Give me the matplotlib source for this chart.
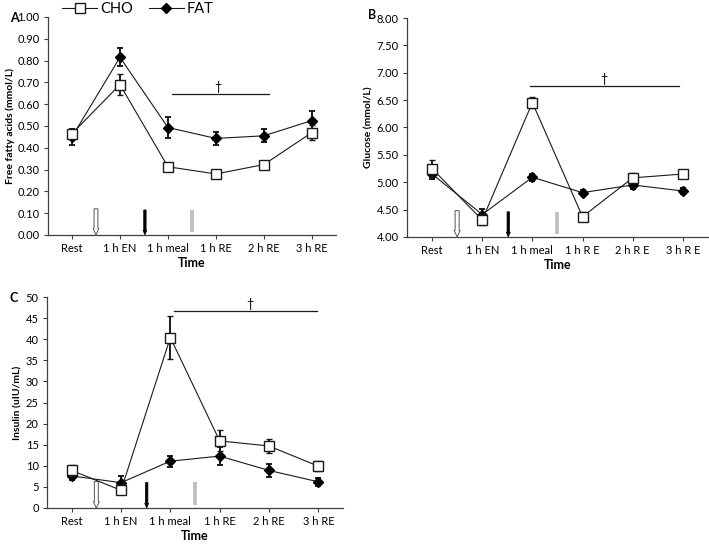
import matplotlib
matplotlib.use("Agg")
import matplotlib.pyplot as plt

plt.rcParams['font.family'] = ['Lato', 'DejaVu Sans']

times = ['Rest', '1 h EN', '1 h meal', '1 h RE', '2 h RE', '3 h RE']
times_b = ['Rest', '1 h EN', '1 h meal', '1 h R E', '2 h R E', '3 h R E']

# A: free fatty acids (mmol/L)
ffa_cho = [0.465, 0.69, 0.313, 0.28, 0.323, 0.47]
ffa_cho_err = [0.02, 0.048, 0.012, 0.01, 0.015, 0.035]
ffa_fat = [0.45, 0.815, 0.493, 0.443, 0.455, 0.525]
ffa_fat_err = [0.035, 0.042, 0.05, 0.03, 0.03, 0.045]

# B: glucose (mmol/L)
glu_cho = [5.25, 4.31, 6.455, 4.37, 5.08, 5.15]
glu_cho_err = [0.15, 0.1, 0.1, 0.08, 0.08, 0.05]
glu_fat = [5.15, 4.41, 5.09, 4.81, 4.95, 4.84]
glu_fat_err = [0.1, 0.1, 0.06, 0.05, 0.07, 0.05]

# C: insulin (uIU/mL)
ins_cho = [8.9, 4.2, 40.4, 15.9, 14.7, 9.9]
ins_cho_err = [1.2, 0.8, 5.0, 2.5, 1.6, 1.2]
ins_fat = [7.6, 6.0, 11.1, 12.3, 8.9, 6.2]
ins_fat_err = [1.0, 1.5, 1.3, 2.2, 1.5, 1.0]

x = list(range(1, 7))
dark = '#1a1a1a'
axis_col = '#404040'


def panel(ax, cho, cho_err, fat, fat_err, labels, ylim, step, fmt, ylabel,
          sig, arrow_top):
    ax.errorbar(x, fat, yerr=fat_err, color=dark, lw=0.8, marker='D', ms=5.5,
                mfc='black', mec='black', ecolor=dark, elinewidth=1.4,
                capsize=2.5, capthick=1.4, zorder=3)
    ax.errorbar(x, cho, yerr=cho_err, color=dark, lw=0.8, marker='s', ms=7,
                mfc='white', mec=dark, mew=1.0, ecolor=dark, elinewidth=1.4,
                capsize=2.5, capthick=1.4, zorder=4)
    lo, hi = ylim
    ax.set_xlim(0.5, 6.5)
    ax.set_ylim(lo, hi)
    ticks = [lo + i * step for i in range(int(round((hi - lo) / step)) + 1)]
    ax.set_yticks(ticks)
    ax.set_yticklabels([fmt.format(t) for t in ticks])
    ax.set_xticks(x)
    ax.set_xticklabels(labels)
    ax.tick_params(labelsize=8, color=axis_col, length=3, width=0.8,
                   direction='out', pad=3)
    for s in ['top', 'right']:
        ax.spines[s].set_visible(False)
    for s in ['left', 'bottom']:
        ax.spines[s].set_color(axis_col)
        ax.spines[s].set_linewidth(0.9)
    ax.set_ylabel(ylabel, fontsize=7.5, fontweight='bold', labelpad=2)
    ax.set_xlabel('Time', fontsize=9, fontweight='bold', labelpad=2)
    # significance bar
    x0, x1, ys, xd = sig
    rng = hi - lo
    ax.plot([x0, x1], [ys, ys], color=dark, lw=0.9)
    ax.text(xd, ys + 0.005 * rng, '\u2020', ha='center', va='bottom',
            fontsize=9)
    # arrows: white, black, grey
    h = arrow_top - lo
    ax.arrow(1.5, arrow_top, 0, -h, width=0.08, head_width=0.12,
             head_length=0.03 * rng, length_includes_head=True,
             fc='white', ec='#555555', lw=0.7, zorder=2)
    ax.arrow(2.52, arrow_top - 0.005 * rng, 0, -h + 0.005 * rng, width=0.05,
             head_width=0.08, head_length=0.022 * rng,
             length_includes_head=True, fc='black', ec='black', lw=0.5,
             zorder=2)
    ax.plot([3.5, 3.5], [lo + 0.015 * rng, arrow_top - 0.005 * rng],
            color='#c0c0c0', lw=2.8, solid_capstyle='butt', zorder=2)


fig = plt.figure(figsize=(7.09, 5.46), dpi=100)
axA = fig.add_axes([0.0677, 0.5696, 0.406, 0.3993])
axB = fig.add_axes([0.574, 0.566, 0.4245, 0.401])
axC = fig.add_axes([0.0663, 0.0696, 0.4175, 0.3864])

panel(axA, ffa_cho, ffa_cho_err, ffa_fat, ffa_fat_err, times, (0.0, 1.0),
      0.1, '{:.2f}', 'Free fatty acids (mmol/L)', (3.08, 5.1, 0.645, 4.04), 0.12)
panel(axB, glu_cho, glu_cho_err, glu_fat, glu_fat_err, times_b, (4.0, 8.0),
      0.5, '{:.2f}', 'Glucose (mmol/L)', (2.95, 5.92, 6.76, 4.42), 4.48)
panel(axC, ins_cho, ins_cho_err, ins_fat, ins_fat_err, times, (0, 50),
      5, '{:.0f}', 'Insulin (uIU/mL)', (3.07, 5.97, 46.6, 4.62), 6.3)

fig.text(10 / 709, 1 - 18 / 546, 'A', fontsize=9, fontweight='bold',
         ha='left', va='center')
fig.text(368 / 709, 1 - 15 / 546, 'B', fontsize=9, fontweight='bold',
         ha='left', va='center')
fig.text(10 / 709, 1 - 298 / 546, 'C', fontsize=9, fontweight='bold',
         ha='left', va='center')

# legend
h_cho, = axA.plot([], [], color=dark, lw=0.8, marker='s', ms=7, mfc='white',
                  mec=dark)
h_fat, = axA.plot([], [], color=dark, lw=0.8, marker='D', ms=5.5,
                  mfc='black', mec='black')
fig.legend([h_cho, h_fat], ['CHO', 'FAT'], loc='center left',
           bbox_to_anchor=(62 / 709, 1 - 9 / 546), ncol=2, frameon=False,
           fontsize=10.5, handlelength=2.4, handletextpad=0.2,
           columnspacing=1.1, borderpad=0, borderaxespad=0)

fig.savefig('out.png', dpi=100)
